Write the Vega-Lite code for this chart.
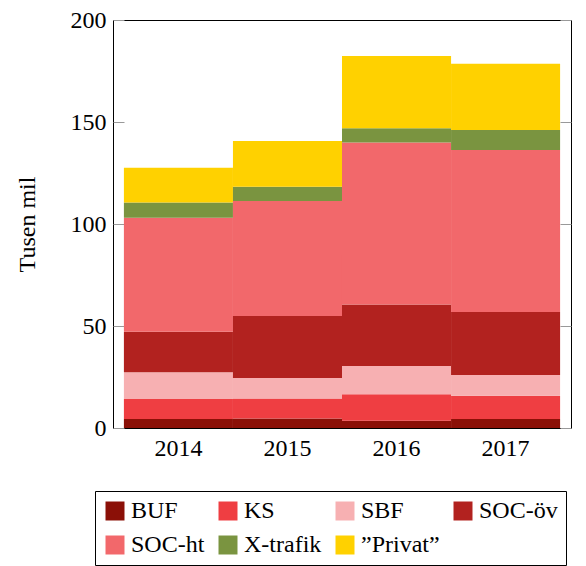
{
  "$schema": "https://vega.github.io/schema/vega-lite/v6.json",
  "autosize": {"type": "none"},
  "padding": {"left": 113, "top": 20, "right": 15, "bottom": 138},
  "width": 458,
  "height": 408,
  "background": "white",
  "config": {
    "font": "Liberation Serif",
    "view": {"stroke": "black", "strokeWidth": 1},
    "axis": {"labelFont": "Liberation Serif", "titleFont": "Liberation Serif", "labelColor": "black", "titleColor": "black"}
  },
  "data": {"values": [
    {"year": "2014", "cat": "BUF", "value": 4.4},
    {"year": "2014", "cat": "KS", "value": 9.8},
    {"year": "2014", "cat": "SBF", "value": 13.1},
    {"year": "2014", "cat": "SOC-öv", "value": 19.9},
    {"year": "2014", "cat": "SOC-ht", "value": 55.9},
    {"year": "2014", "cat": "X-trafik", "value": 7.4},
    {"year": "2014", "cat": "”Privat”", "value": 17.1},
    {"year": "2015", "cat": "BUF", "value": 4.7},
    {"year": "2015", "cat": "KS", "value": 9.8},
    {"year": "2015", "cat": "SBF", "value": 10.0},
    {"year": "2015", "cat": "SOC-öv", "value": 30.4},
    {"year": "2015", "cat": "SOC-ht", "value": 56.4},
    {"year": "2015", "cat": "X-trafik", "value": 7.0},
    {"year": "2015", "cat": "”Privat”", "value": 22.4},
    {"year": "2016", "cat": "BUF", "value": 3.6},
    {"year": "2016", "cat": "KS", "value": 12.9},
    {"year": "2016", "cat": "SBF", "value": 13.9},
    {"year": "2016", "cat": "SOC-öv", "value": 30.2},
    {"year": "2016", "cat": "SOC-ht", "value": 79.4},
    {"year": "2016", "cat": "X-trafik", "value": 6.9},
    {"year": "2016", "cat": "”Privat”", "value": 35.5},
    {"year": "2017", "cat": "BUF", "value": 4.4},
    {"year": "2017", "cat": "KS", "value": 11.4},
    {"year": "2017", "cat": "SBF", "value": 10.2},
    {"year": "2017", "cat": "SOC-öv", "value": 30.9},
    {"year": "2017", "cat": "SOC-ht", "value": 79.4},
    {"year": "2017", "cat": "X-trafik", "value": 9.8},
    {"year": "2017", "cat": "”Privat”", "value": 32.5}
  ]},
  "transform": [
    {"calculate": "indexof(['BUF', 'KS', 'SBF', 'SOC-öv', 'SOC-ht', 'X-trafik', '”Privat”'], datum.cat)", "as": "stackOrder"}
  ],
  "encoding": {
    "x": {
      "field": "year", "type": "ordinal",
      "scale": {"paddingInner": 0, "paddingOuter": 0.1},
      "axis": {"title": null, "labelAngle": 0, "labelFontSize": 24, "ticks": false, "domain": false, "labelPadding": 8}
    },
    "order": {"field": "stackOrder", "type": "quantitative", "sort": "ascending"}
  },
  "layer": [
    {
      "mark": {"type": "bar"},
      "encoding": {
        "y": {
          "field": "value", "type": "quantitative", "stack": "zero",
          "scale": {"domain": [0, 200], "nice": false},
          "axis": {"title": "Tusen mil", "titleFontSize": 24, "titleFontWeight": "normal", "titlePadding": 31,
                   "labelFontSize": 24, "values": [0, 50, 100, 150, 200], "grid": false, "domain": false,
                   "tickSize": -11, "tickColor": "#999999", "labelPadding": 18, "orient": "left"}
        },
        "color": {
          "field": "cat", "type": "nominal",
          "sort": ["BUF", "KS", "SBF", "SOC-öv", "SOC-ht", "X-trafik", "”Privat”"],
          "scale": {
            "domain": ["BUF", "KS", "SBF", "SOC-öv", "SOC-ht", "X-trafik", "”Privat”"],
            "range": ["#8b1007", "#ef3e42", "#f7b0b2", "#b2221f", "#f2686b", "#7a9440", "#ffd100"]
          },
          "legend": {
            "title": null, "orient": "none", "legendX": -18, "legendY": 471, "direction": "horizontal",
            "columns": 4, "gridAlign": "each", "columnPadding": 11, "rowPadding": 10,
            "strokeColor": "black", "padding": 8,
            "symbolType": "square", "symbolSize": 361, "symbolStrokeWidth": 0, "symbolOpacity": 1,
            "labelFont": "Liberation Serif", "labelFontSize": 24, "labelColor": "black", "labelOffset": 4,
            "labelLimit": 200
          }
        }
      }
    },
    {
      "mark": {"type": "bar", "opacity": 0},
      "encoding": {
        "y": {
          "field": "value", "type": "quantitative", "stack": "zero",
          "scale": {"domain": [0, 200], "nice": false},
          "axis": {"title": null, "labels": false, "values": [0, 50, 100, 150, 200], "grid": false, "domain": false,
                   "tickSize": -11, "tickColor": "#999999", "orient": "right"}
        },
        "detail": {"field": "cat"}
      }
    }
  ],
  "resolve": {"axis": {"y": "independent"}}
}
